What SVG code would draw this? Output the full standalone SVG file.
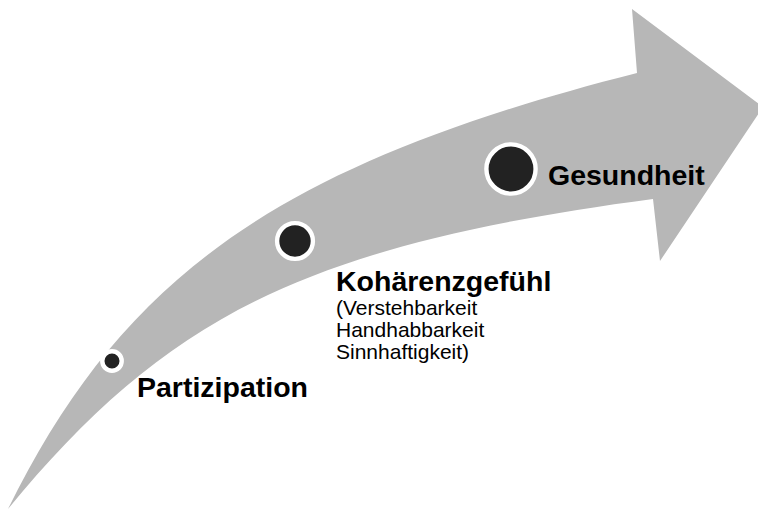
<svg xmlns="http://www.w3.org/2000/svg" width="758" height="511" viewBox="0 0 758 511">
  <style>
    .arrow { fill: #b7b7b7; stroke: none; }
    .dot { fill: #222222; stroke: #ffffff; stroke-width: 4.4; }
    .title { font-family: "Liberation Sans", Arial, sans-serif; font-weight: bold; font-size: 28.5px; fill: #000000; }
    .sub { font-family: "Liberation Sans", Arial, sans-serif; font-size: 21px; fill: #000000; }
  </style>
  <rect x="0" y="0" width="758" height="511" fill="#ffffff"/>
  <g id="arrow">
    <path class="arrow" d="M 8 509 C 123 276, 278 164, 637 73 L 632 9 L 763 107 L 660 261 L 653 199 C 306 245, 167 316, 8 509 Z"/>
  </g>
  <g id="connectors"></g>
  <g id="node-partizipation">
    <circle class="dot" cx="112" cy="361" r="9.7"/>
    <text class="title" x="137" y="397">Partizipation</text>
  </g>
  <g id="node-kohaerenzgefuehl">
    <circle class="dot" cx="295" cy="241" r="17.9"/>
    <text class="title" x="336" y="291">Kohärenzgefühl</text>
    <text class="sub" x="336" y="315">(Verstehbarkeit</text>
    <text class="sub" x="336" y="337">Handhabbarkeit</text>
    <text class="sub" x="336" y="359">Sinnhaftigkeit)</text>
  </g>
  <g id="node-gesundheit">
    <circle class="dot" cx="511" cy="169" r="24.6"/>
    <text class="title" x="548" y="185">Gesundheit</text>
  </g>
</svg>
